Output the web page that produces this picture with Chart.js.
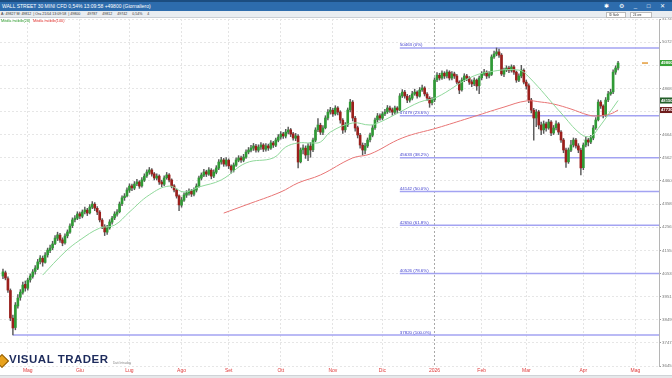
<!DOCTYPE html>
<html>
<head>
<meta charset="utf-8">
<script src="https://cdn.jsdelivr.net/npm/chart.js@4.4.1/dist/chart.umd.min.js"></script>
<style>
  html, body { margin: 0; padding: 0; background: #fff; }
  #wrap { position: relative; width: 672px; height: 378px; overflow: hidden; font-family: "Liberation Sans", Arial, sans-serif; }
  #chart { position: absolute; left: 0; top: 0; }
  .titlebar { position: absolute; left: 0; top: 0; width: 672px; height: 11px; background: #2d6cad; border-top: 2px solid #1c4d80; box-sizing: border-box; color: #fff; font-size: 5px; line-height: 9px; padding-left: 2px; white-space: nowrap; }
  .titlebar .icons { position: absolute; right: 3px; top: 0; font-size: 6px; letter-spacing: 4px; }
  .toolbar { position: absolute; left: 0; top: 11px; width: 672px; height: 6px; background: #e9edf1; border-bottom: 1px solid #c9ced4; color: #333; font-size: 3.6px; line-height: 6px; padding-left: 1px; white-space: nowrap; }
  .toolbar .sel { position: absolute; top: 1px; height: 4px; line-height: 4px; background: #fff; border: 1px solid #bbb; font-size: 3px; padding: 0 2px; }
  .legend { position: absolute; top: 19px; font-size: 3.8px; white-space: nowrap; }
  .logo { position: absolute; left: 0; top: 353px; height: 14px; white-space: nowrap; }
  .logo .mark { position: absolute; left: -3px; top: 3px; width: 8px; height: 8px; background: #e8a21c; transform: rotate(45deg); border: 1px solid #8a5a0a; }
  .logo .txt { position: absolute; left: 9px; top: 0px; font-size: 11.5px; font-weight: bold; color: #1d2b5c; letter-spacing: 0.5px; }
  .logo .sub { position: absolute; left: 113px; top: 8px; font-size: 3.2px; color: #888; }
  .status { position: absolute; left: 0; top: 375px; width: 672px; height: 3px; background: #e6e8ea; border-top: 1px solid #cfd3d7; }
</style>
</head>
<body>
<div id="wrap">
  <canvas id="chart" width="672" height="378"></canvas>
  <div class="titlebar">WALL STREET 30 MINI CFD 0,54% 13:09:58 +49800 (Giornaliero)<span class="icons">&#10033; &#9881; _ &#9633; &#10005;</span></div>
  <div class="toolbar">A: 49827 M: 49812 &nbsp;| Ora 21/04 13:09:58 &nbsp;| 49800 &nbsp; &nbsp; &nbsp; 49787 &nbsp; &nbsp; 49812 &nbsp; &nbsp; 49742 &nbsp; &nbsp; 0,54% &nbsp; &nbsp; 4
    <span class="sel" style="left:606px;width:14px;">ID flash</span><span class="sel" style="left:630px;width:16px;">24 ore</span></div>
  <div class="legend" style="left:1px;color:#2c9a2c;">Media mobile(20)</div>
  <div class="legend" style="left:33px;color:#e0302c;">Media mobile(100)</div>
  <div class="logo"><span class="mark"></span><span class="txt">VISUAL TRADER</span><span class="sub">Dati Intraday</span></div>
  <div class="status"></div>
</div>
<script>
// daily candles, WALL STREET 30 (one entry per session)
const opens = [
  40420, 40560, 40300, 39780, 38560, 38150, 39100, 39480, 39700, 40050,
  39880, 40250, 40400, 40620, 40760, 41050, 41200, 41020, 41350, 41540,
  41660, 41850, 42080, 42220, 42010, 41880, 42190, 42350, 42640, 42900,
  42960, 43160, 43050, 43240, 43320, 43200, 43450, 43580, 43400, 43230,
  42880, 42600, 42350, 42540, 42790, 42980, 43140, 43250, 43600, 43870,
  43950, 44200, 44390, 44290, 44480, 44560, 44390, 44640, 44830, 44990,
  45090, 44920, 44730, 44820, 44560, 44460, 44750, 44870, 44650, 44390,
  44200, 43950, 43540, 43760, 43980, 44070, 44170, 44020, 44200, 44380,
  44730, 44860, 45010, 44900, 45080, 44820, 44990, 45170, 45440, 45530,
  45340, 45520, 45260, 45080, 45300, 45520, 45620, 45520, 45650, 45880,
  45960, 46050, 46140, 45960, 46100, 46190, 46000, 46150, 46050, 46280,
  46180, 46400, 46540, 46680, 46580, 46760, 46860, 46680, 46490, 46580,
  45450, 45980, 46050, 45760, 46140, 45980, 46400, 46860, 47060, 46750,
  46950, 47380, 47640, 47720, 47560, 47820, 47640, 47280, 46860, 47080,
  47740, 48080, 47370, 46950, 46620, 46180, 45960, 46150, 46420, 46620,
  46950, 47300, 47480, 47370, 47560, 47650, 47820, 47740, 47630, 47820,
  47740, 48350, 48520, 48340, 48160, 48250, 48440, 48520, 48340, 48620,
  48700, 48430, 48250, 48050, 48180, 49060, 49260, 49140, 49350, 49230,
  49400, 49140, 49320, 49230, 48960, 48620, 49060, 49230, 49130, 48970,
  48880, 49050, 48800, 49150, 49320, 49400, 49230, 49300, 50070, 50200,
  50290, 50150, 49310, 49490, 49580, 49480, 49630, 49400, 49040, 49230,
  49480, 48960, 48800, 48170, 47720, 47380, 47650, 47070, 46860, 47120,
  46940, 47200, 46720, 46950, 47120, 46760, 46410, 45970, 45450, 45960,
  46200, 46410, 46150, 45960, 45190, 46190, 46410, 46320, 46500, 46950,
  47300, 48080, 47900, 47520, 48180, 48440, 48530, 49400, 49580
];
const highs = [
  40720, 40640, 40380, 39850, 38700, 39250, 39600, 39820, 40150, 40200,
  40330, 40520, 40700, 40880, 41150, 41320, 41300, 41450, 41650, 41780,
  41950, 42200, 42350, 42300, 42100, 42280, 42450, 42720, 42980, 43080,
  43250, 43240, 43330, 43450, 43400, 43560, 43700, 43650, 43480, 43300,
  42950, 42680, 42650, 42900, 43050, 43250, 43350, 43680, 43950, 44050,
  44300, 44480, 44470, 44580, 44680, 44620, 44750, 44920, 45100, 45200,
  45150, 44980, 44920, 44880, 44640, 44830, 44980, 44930, 44700, 44450,
  44260, 44000, 43880, 44080, 44180, 44260, 44230, 44300, 44480, 44820,
  44960, 45120, 45080, 45200, 45150, 45100, 45280, 45550, 45650, 45600,
  45640, 45580, 45320, 45400, 45620, 45720, 45700, 45780, 45980, 46080,
  46180, 46260, 46220, 46200, 46300, 46250, 46250, 46230, 46380, 46350,
  46500, 46650, 46780, 46750, 46880, 46980, 46920, 46750, 46700, 46650,
  46060, 46200, 46150, 46250, 46300, 46500, 46950, 47350, 47150, 47050,
  47480, 47750, 47850, 47800, 47920, 47880, 47700, 47350, 47180, 47820,
  48200, 48150, 47450, 47020, 46700, 46280, 46260, 46500, 46720, 47050,
  47380, 47580, 47560, 47650, 47760, 47930, 47900, 47820, 47900, 47880,
  48450, 48630, 48600, 48420, 48380, 48550, 48650, 48580, 48720, 48830,
  48760, 48500, 48320, 48280, 49150, 49380, 49350, 49460, 49420, 49500,
  49460, 49420, 49400, 49300, 49020, 49150, 49330, 49300, 49200, 49060,
  49150, 49100, 49230, 49420, 49520, 49460, 49420, 50160, 50330, 50463,
  50420, 50220, 49580, 49680, 49650, 49720, 49700, 49450, 49330, 49700,
  49550, 49050, 48880, 48250, 47800, 47750, 47720, 47200, 47250, 47200,
  47320, 47260, 47050, 47250, 47180, 46820, 46480, 46050, 46060, 46400,
  46500, 46480, 46250, 46050, 46280, 46550, 46480, 46620, 47050, 47400,
  48180, 48150, 47960, 48280, 48550, 48650, 49500, 49680, 49880
];
const lows = [
  40300, 40250, 39700, 38450, 37820, 38050, 39000, 39350, 39620, 39750,
  39800, 40150, 40320, 40500, 40700, 40950, 40850, 40980, 41250, 41450,
  41580, 41800, 41980, 41900, 41750, 41820, 42100, 42300, 42550, 42800,
  42900, 42950, 42980, 43150, 43080, 43150, 43380, 43300, 43120, 42800,
  42500, 42200, 42250, 42480, 42700, 42900, 43050, 43200, 43520, 43750,
  43900, 44100, 44180, 44220, 44400, 44280, 44330, 44580, 44760, 44900,
  44820, 44650, 44650, 44450, 44350, 44400, 44680, 44560, 44300, 44120,
  43850, 43300, 43450, 43700, 43880, 43980, 43920, 43950, 44120, 44330,
  44650, 44800, 44800, 44850, 44700, 44750, 44920, 45100, 45350, 45250,
  45260, 45150, 44950, 45000, 45250, 45450, 45420, 45450, 45600, 45800,
  45880, 45950, 45870, 45880, 46000, 45900, 45920, 45950, 46000, 46080,
  46120, 46330, 46450, 46480, 46500, 46680, 46560, 46400, 46380, 45180,
  45400, 45800, 45600, 45500, 45650, 45900, 46330, 46780, 46650, 46650,
  46900, 47300, 47550, 47450, 47500, 47520, 47150, 46700, 46750, 47000,
  47650, 47250, 46800, 46500, 46050, 45750, 45800, 46080, 46330, 46550,
  46880, 47200, 47280, 47300, 47480, 47580, 47620, 47500, 47550, 47600,
  47700, 48280, 48250, 48050, 48080, 48180, 48380, 48250, 48300, 48550,
  48350, 48150, 47850, 47950, 48100, 48980, 49050, 49080, 49120, 49150,
  49050, 49060, 49120, 48880, 48450, 48560, 48980, 49020, 48860, 48760,
  48800, 48600, 48450, 49060, 49250, 49120, 49150, 49250, 50000, 50120,
  50050, 49250, 49200, 49420, 49380, 49400, 49300, 48950, 48980, 49150,
  48880, 48650, 48050, 47600, 46400, 47000, 46900, 46650, 46700, 46800,
  46880, 46600, 46650, 46850, 46650, 46300, 45850, 45200, 45380, 45900,
  46100, 46050, 45850, 44870, 45100, 46100, 46150, 46250, 46420, 46880,
  47250, 47800, 47380, 47450, 48100, 48380, 48450, 49300, 49500
];
const closes = [
  40600, 40330, 39800, 38570, 38130, 39140, 39450, 39710, 40020, 39890,
  40240, 40420, 40600, 40770, 41040, 41210, 41030, 41340, 41560, 41650,
  41830, 42090, 42230, 42000, 41870, 42180, 42360, 42620, 42890, 42970,
  43150, 43060, 43240, 43330, 43190, 43460, 43590, 43410, 43240, 42890,
  42620, 42360, 42530, 42800, 42970, 43150, 43240, 43590, 43860, 43940,
  44210, 44380, 44300, 44470, 44560, 44380, 44650, 44820, 45000, 45090,
  44910, 44740, 44820, 44560, 44470, 44740, 44870, 44650, 44380, 44210,
  43940, 43550, 43770, 43990, 44080, 44160, 44030, 44210, 44380, 44740,
  44870, 45000, 44910, 45090, 44820, 45000, 45180, 45440, 45530, 45350,
  45530, 45270, 45090, 45310, 45530, 45620, 45530, 45660, 45880, 45970,
  46060, 46150, 45970, 46100, 46190, 46010, 46150, 46060, 46280, 46190,
  46410, 46540, 46670, 46590, 46760, 46850, 46670, 46500, 46590, 45440,
  45970, 46060, 45750, 46150, 45970, 46410, 46850, 47070, 46760, 46940,
  47380, 47640, 47730, 47560, 47820, 47640, 47290, 46850, 47070, 47730,
  48080, 47380, 46940, 46630, 46190, 45970, 46150, 46410, 46630, 46940,
  47290, 47470, 47380, 47560, 47640, 47820, 47730, 47640, 47820, 47730,
  48350, 48520, 48350, 48170, 48260, 48440, 48520, 48350, 48610, 48700,
  48440, 48260, 48040, 48170, 49050, 49270, 49140, 49360, 49230, 49400,
  49140, 49320, 49230, 48960, 48610, 49050, 49230, 49140, 48960, 48880,
  49050, 48790, 49140, 49320, 49400, 49230, 49320, 50070, 50200, 50290,
  50150, 49320, 49490, 49580, 49490, 49630, 49400, 49050, 49230, 49490,
  48960, 48790, 48170, 47730, 47380, 47640, 47070, 46850, 47120, 46940,
  47200, 46720, 46940, 47120, 46760, 46410, 45970, 45440, 45970, 46190,
  46410, 46150, 45970, 45180, 46190, 46410, 46320, 46500, 46940, 47290,
  48080, 47910, 47510, 48170, 48440, 48520, 49400, 49580, 49800
];

// moving averages (session index -> value)
const ma20Days   = [16, 25, 31, 39, 45, 51, 59, 67, 73, 79, 88, 98, 109, 114, 119, 124, 128, 132, 141, 148, 152, 160, 168, 175, 188, 196, 208, 212, 225, 233, 237, 240, 248];
const ma20Values = [40460, 41480, 42000, 42530, 42660, 43240, 43990, 44380, 44120, 44340, 44650, 45400, 45620, 46100, 46280, 46280, 46320, 46760, 47160, 47070, 47200, 47640, 48080, 48300, 49140, 49410, 49490, 49190, 47600, 46670, 46570, 46920, 48150];
const ma100Days   = [89, 98, 112, 119, 128, 141, 148, 161, 175, 188, 202, 211, 217, 222, 229, 236, 240, 245, 248];
const ma100Values = [43190, 43550, 44120, 44520, 44870, 45620, 45790, 46500, 46940, 47380, 47860, 48130, 48080, 47995, 47775, 47510, 47470, 47560, 47730];

// Fibonacci retracement 37820 -> 50463
const fibLevels   = [50463, 47479, 45633, 44142, 42650, 40526, 37820];
const fibPercents = ['0%', '23.6%', '38.2%', '50.0%', '61.8%', '78.6%', '100.0%'];
const fibFrom     = [160, 160, 160, 160, 160, 160, 4];
const fibLabelDay = 160;

// month ticks (session index of first day of month)
const monthTicks  = [10, 31, 51, 72, 91, 112, 133, 153, 174, 193, 211, 234, 255];
const monthLabels = ['Mag', 'Giu', 'Lug', 'Ago', 'Set', 'Ott', 'Nov', 'Dic', '2026', 'Feb', 'Mar', 'Apr', 'Mag'];
const yearTick = 174;

const UP = '#2f9a35';
const DOWN = '#9b1f1c';

const wickData = highs.map((h, i) => ({ x: i, y: [lows[i], h] }));
const bodyData = opens.map((o, i) => ({ x: i, y: [o, closes[i]] }));
const bodyColors = opens.map((o, i) => closes[i] >= o ? UP : DOWN);

const fibDatasets = fibLevels.map((lv, i) => ({
    type: 'line',
    data: [{ x: fibFrom[i], y: lv }, { x: 264.5, y: lv }],
    borderColor: '#a3a3f2',
    borderWidth: 1.5,
    pointRadius: 0,
    order: 5
}));

const overlayPlugin = {
    id: 'overlay',
    afterDatasetsDraw(chart) {
        const { ctx } = chart;
        const x = chart.scales.x, y = chart.scales.y;
        ctx.save();
        ctx.font = '4.4px "Liberation Sans", Arial';
        ctx.fillStyle = '#3a3acc';
        ctx.textBaseline = 'bottom';
        fibLevels.forEach((lv, i) => {
            ctx.fillText(lv + ' (' + fibPercents[i] + ')', x.getPixelForValue(fibLabelDay), y.getPixelForValue(lv) - 0.5);
        });
        ctx.restore();
    },
    afterDraw(chart) {
        const { ctx, chartArea } = chart;
        const y = chart.scales.y;
        const last = closes[closes.length - 1];
        const tags = [
            [last, '#38a338'],
            [ma20Values[ma20Values.length - 1], '#245f2a'],
            [ma100Values[ma100Values.length - 1], '#6e1c1c']
        ];
        ctx.save();
        // small current-price mark
        ctx.fillStyle = '#e2952c';
        ctx.fillRect(chartArea.right - 17, y.getPixelForValue(last) - 0.7, 6, 1.4);
        ctx.font = 'bold 4.2px "Liberation Sans", Arial';
        ctx.textBaseline = 'middle';
        tags.forEach(([v, col]) => {
            const py = y.getPixelForValue(v);
            ctx.fillStyle = col;
            ctx.fillRect(chartArea.right + 1, py - 3, 14, 6);
            ctx.fillStyle = '#fff';
            ctx.fillText(String(v), chartArea.right + 2, py + 0.3);
        });
        ctx.restore();
    }
};

new Chart(document.getElementById('chart'), {
    type: 'bar',
    data: {
        datasets: [
            {
                type: 'line',
                data: ma20Days.map((d, i) => ({ x: d, y: ma20Values[i] })),
                borderColor: '#8fd89a',
                borderWidth: 1,
                pointRadius: 0,
                tension: 0.4,
                order: 0
            },
            {
                type: 'line',
                data: ma100Days.map((d, i) => ({ x: d, y: ma100Values[i] })),
                borderColor: '#e87575',
                borderWidth: 1,
                pointRadius: 0,
                tension: 0.4,
                order: 0
            },
            {
                data: bodyData,
                backgroundColor: bodyColors,
                barThickness: 2,
                minBarLength: 1,
                grouped: false,
                order: 1
            },
            {
                data: wickData,
                backgroundColor: '#5a5a5a',
                barThickness: 0.8,
                grouped: false,
                order: 2
            },
            ...fibDatasets
        ]
    },
    options: {
        responsive: false,
        animation: false,
        devicePixelRatio: 1,
        layout: { padding: { top: 19, left: 0, right: 0, bottom: 0 } },
        plugins: { legend: { display: false }, tooltip: { enabled: false } },
        scales: {
            x: {
                type: 'linear',
                min: -1.2,
                max: 264.5,
                offset: false,
                afterBuildTicks: (scale) => { scale.ticks = monthTicks.map(v => ({ value: v })); },
                afterFit: (scale) => { scale.height = 12; },
                ticks: {
                    autoSkip: false,
                    maxRotation: 0,
                    padding: 2,
                    color: '#e03a3a',
                    font: { size: 5, family: '"Liberation Sans", Arial' },
                    callback: (v, i) => monthLabels[i]
                },
                grid: {
                    offset: false,
                    drawTicks: false,
                    color: (c) => (c.tick && c.tick.value === yearTick) ? '#a8a8a8' : '#e4e4e4'
                },
                border: { display: false, dash: [2, 2] }
            },
            y: {
                position: 'right',
                min: 36455,
                max: 51740,
                afterFit: (scale) => { scale.width = 13; },
                ticks: {
                    stepSize: 1000,
                    includeBounds: false,
                    padding: 1,
                    color: '#777',
                    font: { size: 4.4, family: '"Liberation Sans", Arial' },
                    callback: (v) => String(v)
                },
                grid: { color: '#e6e6e6', tickLength: 2, tickColor: '#999' },
                border: { display: true, color: '#b5b5b5', dash: [2, 2] }
            }
        }
    },
    plugins: [overlayPlugin]
});
</script>
</body>
</html>
